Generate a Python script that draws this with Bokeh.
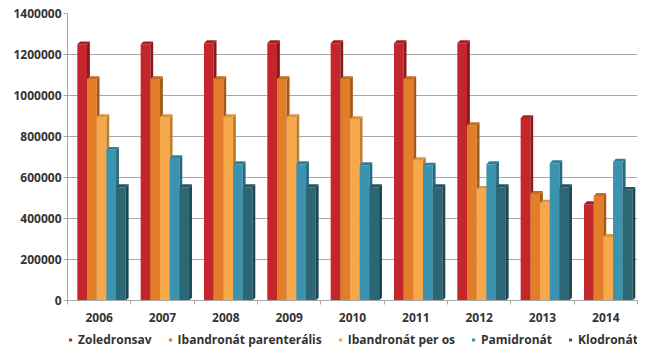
from bokeh.plotting import figure
from bokeh.layouts import column
from bokeh.models import (Range1d, FixedTicker, BasicTickFormatter, Legend, LegendItem)
from bokeh.embed import file_html
from bokeh.resources import INLINE

years = ["2006", "2007", "2008", "2009", "2010", "2011", "2012", "2013", "2014"]
series_names = ["Zoledronsav", "Ibandronát parenterális", "Ibandronát per os",
                "Pamidronát", "Klodronát"]
zoledronsav = [1250000, 1250000, 1255000, 1255000, 1255000, 1255000, 1255000, 890000, 470000]
ibandronat_par = [1080000, 1080000, 1080000, 1080000, 1080000, 1080000, 855000, 520000, 510000]
ibandronat_os = [895000, 895000, 895000, 895000, 885000, 685000, 545000, 478000, 310000]
pamidronat = [735000, 695000, 665000, 665000, 660000, 658000, 665000, 670000, 677000]
klodronat = [553000, 553000, 553000, 553000, 553000, 553000, 553000, 553000, 540000]
y_ticks = [0, 200000, 400000, 600000, 800000, 1000000, 1200000, 1400000]

all_series = [zoledronsav, ibandronat_par, ibandronat_os, pamidronat, klodronat]
front_colors = ["#C4262B", "#E27E29", "#F6A84A", "#3C93AF", "#2C6775"]
side_colors = ["#8A181C", "#A45A19", "#BE7F30", "#27697E", "#1B4550"]
cap_colors = ["#A81F23", "#C46C20", "#DB943D", "#307F97", "#225763"]

FONT = "Open Sans"
GRID = "#A8A8A8"

p = figure(width=661, height=324, output_backend="svg", toolbar_location=None,
           x_range=Range1d(0, 9), y_range=Range1d(0, 1400000),
           min_border_left=67, min_border_right=24, min_border_top=13,
           min_border_bottom=24)
p.outline_line_color = None
p.background_fill_color = "white"
p.border_fill_color = "white"

bw = 0.153     # bar width in category units
start = 0.155  # offset of first bar inside a category
dx = 0.045     # 3D depth, horizontal
dy = 14000     # 3D depth, vertical

for k, vals in enumerate(all_series):
    lefts = [i + start + k * bw for i in range(len(years))]
    rights = [l + bw for l in lefts]
    centers = [l + bw / 2 for l in lefts]
    p.vbar(x=centers, top=vals, bottom=0, width=bw,
           fill_color=front_colors[k], line_color=None)
    side_xs = [[xr, xr, xr + dx, xr + dx] for xr in rights]
    side_ys = [[0, v, v + dy, dy] for v in vals]
    p.patches(side_xs, side_ys, fill_color=side_colors[k], line_color=None)
    cap_xs = [[xl, xr, xr + dx, xl + dx] for xl, xr in zip(lefts, rights)]
    cap_ys = [[v, v, v + dy, v + dy] for v in vals]
    p.patches(cap_xs, cap_ys, fill_color=cap_colors[k], line_color=None)

# y axis
p.yaxis.ticker = FixedTicker(ticks=y_ticks)
p.yaxis.formatter = BasicTickFormatter(use_scientific=False)
p.yaxis.axis_line_color = GRID
p.yaxis.major_tick_line_color = GRID
p.yaxis.major_tick_out = 4
p.yaxis.major_tick_in = 0
p.yaxis.minor_tick_line_color = None
p.yaxis.major_label_standoff = 2
p.yaxis.major_label_text_font = FONT
p.yaxis.major_label_text_font_style = "bold"
p.yaxis.major_label_text_font_size = "12px"
p.yaxis.major_label_text_color = "#333333"

# x axis
centers_x = [i + 0.5 for i in range(len(years))]
p.xaxis.ticker = FixedTicker(ticks=centers_x, minor_ticks=list(range(len(years) + 1)))
p.xaxis.major_label_overrides = {c: y for c, y in zip(centers_x, years)}
p.xaxis.axis_line_color = GRID
p.xaxis.major_tick_line_color = None
p.xaxis.minor_tick_line_color = GRID
p.xaxis.minor_tick_out = 4
p.xaxis.minor_tick_in = 0
p.xaxis.major_label_standoff = 6
p.xaxis.major_label_text_font = FONT
p.xaxis.major_label_text_font_style = "bold"
p.xaxis.major_label_text_font_size = "12px"
p.xaxis.major_label_text_color = "#333333"

p.xgrid.grid_line_color = None
p.ygrid.grid_line_color = GRID
p.ygrid.grid_line_width = 1

# legend strip below the chart; its placeholder markers lie outside the visible range
lg = figure(width=661, height=30, output_backend="svg", toolbar_location=None,
            x_range=Range1d(0, 1), y_range=Range1d(0, 1),
            min_border=0, min_border_left=0, min_border_right=0,
            min_border_top=0, min_border_bottom=0)
lg.axis.visible = False
lg.grid.visible = False
lg.outline_line_color = None
legend_items = []
for k, name in enumerate(series_names):
    r = lg.scatter(x=[-5], y=[-5], marker="square", size=8,
                   fill_color=front_colors[k], line_color=None)
    legend_items.append(LegendItem(label=name, renderers=[r]))
legend = Legend(items=legend_items, orientation="horizontal", location="center",
                label_text_font=FONT, label_text_font_style="bold",
                label_text_font_size="12px", label_text_color="#333333",
                glyph_width=8, glyph_height=8, label_standoff=4, spacing=14,
                padding=0, margin=0, border_line_color=None,
                background_fill_alpha=0)
lg.add_layout(legend)

layout = column(p, lg, spacing=0)
open("out.html", "w").write(file_html(layout, INLINE))
